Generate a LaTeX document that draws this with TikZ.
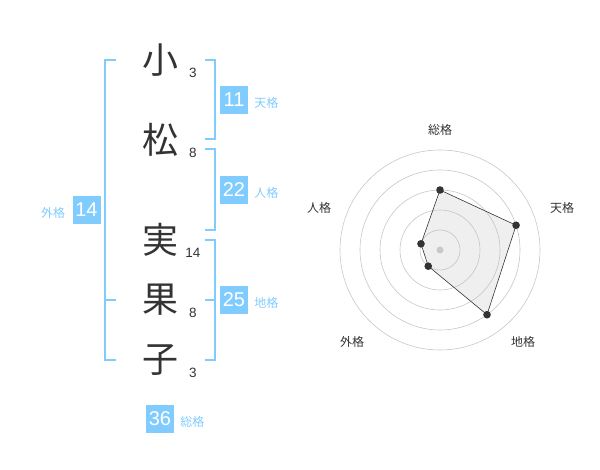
\documentclass[tikz,border=0pt]{standalone}
\usepackage{fontspec}
\setmainfont{Liberation Sans}
\newfontfamily\cjk{Noto Sans CJK JP}
\usetikzlibrary{positioning}
\definecolor{skyb}{RGB}{128,204,255}
\definecolor{ink}{RGB}{51,51,51}

\begin{document}
\begin{tikzpicture}[x=1pt, y=-1pt,
    kanji/.style={font=\cjk\fontsize{36}{36}\selectfont, text=ink, inner sep=0pt},
    stroke/.style={font=\fontsize{13.5}{13.5}\selectfont, text=ink, inner sep=0pt},
    score/.style={fill=skyb, text=white, minimum size=28pt, inner sep=0pt, font=\fontsize{20}{20}\selectfont},
    kaku/.style={font=\cjk\fontsize{12}{12}\selectfont, text=skyb, inner sep=0pt},
    bracket/.style={draw=skyb, line width=1.5pt},
    ring/.style={draw=black!22, line width=0.6pt},
    axis/.style={font=\cjk\fontsize{12}{12}\selectfont, text=ink, inner sep=0pt}]
    \useasboundingbox (0,0) rectangle (600,470);
    % name and stroke counts
    \node[kanji] (c1) at (160,60) {小};
    \node[kanji] (c2) at (160,140) {松};
    \node[kanji] (c3) at (160,240) {実};
    \node[kanji] (c4) at (160,300) {果};
    \node[kanji] (c5) at (160,360) {子};
    \node[stroke] (n1) at (193,73) {3};
    \node[stroke] (n2) at (193,153) {8};
    \node[stroke] (n3) at (193,253) {14};
    \node[stroke] (n4) at (193,313) {8};
    \node[stroke] (n5) at (193,373) {3};
    % brackets
    \draw[bracket] (116,60) -- (105,60) -- (105,360) -- (116,360);
    \draw[bracket] (105,300) -- (116,300);
    \draw[bracket] (205,60) -- (215,60) -- (215,139) -- (205,139);
    \draw[bracket] (205,149) -- (215,149) -- (215,230) -- (205,230);
    \draw[bracket] (205,240) -- (215,240) -- (215,360) -- (205,360);
    \draw[bracket] (205,300) -- (215,300);
    % scores
    \node[score] (ten) at (234,100) {11};
    \node[kaku, right=6pt of ten, yshift=-3pt] (tenL) {天格};
    \node[score] (jin) at (234,190) {22};
    \node[kaku, right=6pt of jin, yshift=-3pt] (jinL) {人格};
    \node[score] (chi) at (234,300) {25};
    \node[kaku, right=6pt of chi, yshift=-3pt] (chiL) {地格};
    \node[score] (gai) at (86.5,210) {14};
    \node[kaku, left=7pt of gai, yshift=-3pt] (gaiL) {外格};
    \node[score] (sou) at (160,419) {36};
    \node[kaku, right=6pt of sou, yshift=-3pt] (souL) {総格};
    % radar chart
    \begin{scope}[shift={(440,250)}, y=1pt]
        \foreach \r in {20,40,...,100}
            \draw[ring] (0,0) circle[radius=\r];
        \fill[black!20] (0,0) circle[radius=3.5];
        \coordinate (p1) at (90:60);
        \coordinate (p2) at (18:80);
        \coordinate (p3) at (-54:80);
        \coordinate (p4) at (-126:20);
        \coordinate (p5) at (162:20);
        \draw[ink, line width=0.6pt, fill=black!25, fill opacity=0.25]
            (p1) -- (p2) -- (p3) -- (p4) -- (p5) -- cycle;
        \foreach \p in {p1,p2,p3,p4,p5}
            \fill[ink] (\p) circle[radius=3.8];
        \node[axis] (a1) at (0,120) {総格};
        \node[axis] (a2) at (122,42) {天格};
        \node[axis] (a3) at (83,-92) {地格};
        \node[axis] (a4) at (-88,-92) {外格};
        \node[axis] (a5) at (-121,42) {人格};
    \end{scope}
\end{tikzpicture}
\end{document}
